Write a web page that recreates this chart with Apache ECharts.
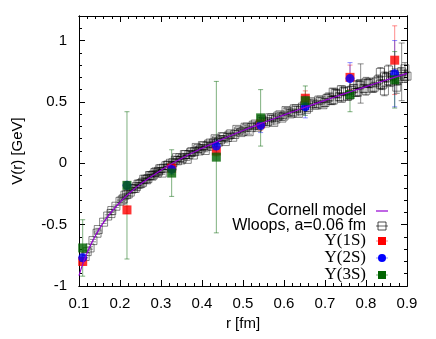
<!DOCTYPE html>
<html>
<head>
<meta charset="utf-8">
<script src="https://cdn.jsdelivr.net/npm/echarts@6/dist/echarts.min.js"></script>
<style>html,body{margin:0;padding:0;background:#fff}#c{width:436px;height:339px}</style>
</head>
<body>
<div id="c"></div>
<script>
// ---- data ----
const cornR = [0.1,0.11,0.12,0.13,0.14,0.15,0.16,0.18,0.2,0.22,0.25,0.3,0.35,0.4,0.45,0.5,0.55,0.6,0.65,0.7,0.75,0.8,0.85,0.9];
const cornV = [-0.915,-0.814,-0.728,-0.655,-0.590,-0.533,-0.481,-0.393,-0.318,-0.253,-0.170,-0.056,0.039,0.122,0.197,0.267,0.332,0.394,0.454,0.513,0.569,0.625,0.679,0.733];

const wlR = [0.115,0.12,0.127,0.134,0.144,0.147,0.16,0.17,0.178,0.18,0.19,0.2,0.208,0.216,0.225,0.233,0.24,0.247,0.255,0.262,0.268,0.275,0.281,0.288,0.294,0.3,0.306,0.312,0.318,0.323,0.329,0.335,0.34,0.346,0.352,0.36,0.368,0.375,0.382,0.39,0.397,0.404,0.412,0.42,0.428,0.436,0.445,0.453,0.462,0.47,0.48,0.49,0.5,0.51,0.52,0.53,0.54,0.55,0.56,0.57,0.58,0.59,0.6,0.61,0.62,0.63,0.64,0.65,0.66,0.67,0.68,0.69,0.7,0.71,0.72,0.72,0.73,0.74,0.74,0.75,0.76,0.77,0.78,0.78,0.787,0.8,0.8,0.81,0.82,0.83,0.835,0.84,0.845,0.85,0.855,0.86,0.87,0.875,0.88,0.887,0.895,0.9];
const wlV = [-0.76,-0.72,-0.69,-0.63,-0.57,-0.54,-0.48,-0.43,-0.41,-0.385,-0.35,-0.31,-0.29,-0.255,-0.235,-0.205,-0.19,-0.17,-0.155,-0.13,-0.125,-0.10,-0.095,-0.07,-0.065,-0.045,-0.04,-0.02,-0.015,0.0,0.005,0.025,0.02,0.045,0.04,0.07,0.07,0.095,0.095,0.12,0.115,0.14,0.14,0.165,0.165,0.19,0.19,0.215,0.21,0.24,0.235,0.265,0.26,0.295,0.29,0.32,0.31,0.345,0.34,0.37,0.36,0.395,0.385,0.42,0.41,0.445,0.43,0.47,0.455,0.49,0.475,0.515,0.495,0.54,0.515,0.58,0.565,0.53,0.60,0.59,0.555,0.61,0.58,0.64,0.65,0.595,0.66,0.655,0.62,0.68,0.74,0.64,0.59,0.70,0.76,0.665,0.72,0.62,0.69,0.745,0.77,0.71];
const wlErr = [0.01,0.01,0.01,0.01,0.01,0.01,0.01,0.01,0.01,0.01,0.01,0.01,0.01,0.01,0.01,0.01,0.01,0.01,0.01,0.01,0.01,0.01,0.01,0.01,0.01,0.01,0.01,0.01,0.01,0.01,0.01,0.01,0.01,0.01,0.01,0.01,0.01,0.01,0.01,0.01,0.01,0.01,0.01,0.01,0.01,0.01,0.01,0.01,0.01,0.01,0.01,0.01,0.01,0.01,0.01,0.01,0.01,0.02,0.02,0.02,0.02,0.02,0.02,0.02,0.02,0.02,0.02,0.02,0.02,0.02,0.02,0.02,0.03,0.03,0.03,0.03,0.03,0.03,0.03,0.03,0.03,0.03,0.03,0.03,0.16,0.04,0.04,0.04,0.04,0.04,0.04,0.04,0.04,0.04,0.04,0.04,0.05,0.05,0.05,0.235,0.05,0.05];
// further Wilson-loop points (the band is dense)
const wl2R = [0.205,0.212,0.22,0.229,0.237,0.244,0.251,0.258,0.265,0.272,0.278,0.285,0.291,0.297,0.303,0.316,0.327,0.338,0.349,0.357,0.364,0.372,0.379,0.386,0.393,0.401,0.408,0.416,0.424,0.432,0.44,0.449,0.457,0.466,0.475,0.485,0.495,0.505,0.515,0.525,0.535,0.545,0.555,0.565,0.575,0.585,0.595,0.605,0.615,0.625,0.635,0.645,0.655,0.665,0.675,0.685,0.695,0.705,0.715,0.725,0.735,0.745,0.755,0.765,0.775,0.785,0.795,0.805,0.815,0.825,0.835,0.845,0.855,0.865,0.875,0.885,0.895];
const wl2V = [-0.30,-0.26,-0.25,-0.21,-0.205,-0.17,-0.165,-0.13,-0.135,-0.10,-0.105,-0.075,-0.08,-0.045,-0.08,-0.016,-0.025,0.046,0.027,0.071,0.032,0.086,0.067,0.129,0.10,0.144,0.104,0.156,0.138,0.20,0.172,0.216,0.177,0.229,0.212,0.276,0.25,0.294,0.257,0.31,0.293,0.356,0.328,0.371,0.333,0.385,0.368,0.43,0.402,0.444,0.406,0.458,0.44,0.502,0.474,0.515,0.477,0.529,0.51,0.571,0.542,0.583,0.545,0.596,0.577,0.638,0.609,0.65,0.611,0.662,0.643,0.704,0.674,0.715,0.676,0.727,0.708];
const wl2Err = [0.01,0.01,0.01,0.01,0.01,0.01,0.01,0.01,0.01,0.01,0.01,0.01,0.01,0.01,0.01,0.01,0.01,0.01,0.01,0.01,0.01,0.01,0.01,0.01,0.01,0.01,0.01,0.01,0.01,0.01,0.01,0.01,0.01,0.01,0.01,0.01,0.01,0.02,0.02,0.02,0.02,0.02,0.02,0.02,0.02,0.02,0.02,0.02,0.02,0.02,0.02,0.02,0.02,0.02,0.02,0.02,0.02,0.03,0.03,0.03,0.03,0.03,0.03,0.03,0.03,0.03,0.03,0.03,0.03,0.04,0.04,0.04,0.04,0.04,0.04,0.05,0.05];

const upsR = [0.109,0.217,0.326,0.435,0.543,0.652,0.761,0.870];
const y1V = [-0.80,-0.38,-0.04,0.10,0.32,0.53,0.70,0.84];
const y1E = [0.03,0.03,0.03,0.04,0.05,0.06,0.10,0.28];
const y2V = [-0.77,-0.18,-0.05,0.14,0.31,0.46,0.69,0.73];
const y2E = [0.03,0.03,0.04,0.05,0.06,0.09,0.13,0.27];
const y3V = [-0.69,-0.18,-0.08,0.05,0.37,0.51,0.56,0.68];
const y3E = [0.23,0.60,0.19,0.617,0.23,0.12,0.14,0.23];

const xTicks = [0.1,0.2,0.3,0.4,0.5,0.6,0.7,0.8,0.9];
const yTicks = [-1,-0.5,0,0.5,1];
const legendNames = ['Cornell model', 'Wloops, a=0.06 fm', 'Υ(1S)', 'Υ(2S)', 'Υ(3S)'];

// ---- build ----
const pairs = (xs, ys) => xs.map((x, i) => [x, ys[i]]);
const errs = (xs, ys, es) => xs.map((x, i) => [x, ys[i] - es[i], ys[i] + es[i]]);

function errRender(color, cap) {
  return function (params, api) {
    const x = api.value(0), lo = api.value(1), hi = api.value(2);
    const p1 = api.coord([x, lo]), p2 = api.coord([x, hi]);
    const st = { stroke: color, lineWidth: 1, fill: null };
    return {
      type: 'group',
      children: [
        { type: 'line', shape: { x1: p1[0], y1: p1[1], x2: p2[0], y2: p2[1] }, style: st },
        { type: 'line', shape: { x1: p1[0] - cap, y1: p1[1], x2: p1[0] + cap, y2: p1[1] }, style: st },
        { type: 'line', shape: { x1: p2[0] - cap, y1: p2[1], x2: p2[0] + cap, y2: p2[1] }, style: st }
      ]
    };
  };
}

const FONT = 'Liberation Sans';
const fmtX = v => (xTicks.some(t => Math.abs(t - v) < 1e-6) ? (+v.toFixed(1)).toString() : '');
const fmtY = v => (yTicks.some(t => Math.abs(t - v) < 1e-6) ? (+v.toFixed(1)).toString() : '');

const baseX = (pos, interval, len, labels) => ({
  type: 'value', min: 0.1, max: 0.9, interval: interval, position: pos,
  axisLine: { show: true, onZero: false, lineStyle: { color: '#000', width: 1 } },
  axisTick: { show: true, inside: true, length: len, lineStyle: { color: '#000' } },
  axisLabel: labels ? { show: true, formatter: fmtX, color: '#000', fontFamily: FONT, fontSize: 15, margin: 10 } : { show: false },
  splitLine: { show: false }
});
const baseY = (pos, interval, len, labels) => ({
  type: 'value', min: -1, max: 1.2, interval: interval, position: pos,
  axisLine: { show: true, onZero: false, lineStyle: { color: '#000', width: 1 } },
  axisTick: { show: true, inside: true, length: len, lineStyle: { color: '#000' } },
  axisLabel: labels ? { show: true, formatter: fmtY, color: '#000', fontFamily: FONT, fontSize: 15, margin: 12 } : { show: false },
  splitLine: { show: false }
});

const xA0 = baseX('bottom', 0.1, 6, true);
xA0.name = 'r [fm]'; xA0.nameLocation = 'middle'; xA0.nameGap = 26;
xA0.nameTextStyle = { color: '#000', fontFamily: FONT, fontSize: 15 };
const yA0 = baseY('left', 0.5, 6, true);
yA0.name = 'V(r) [GeV]'; yA0.nameLocation = 'middle'; yA0.nameGap = 54;
yA0.nameTextStyle = { color: '#000', fontFamily: FONT, fontSize: 15 };

// legend drawn as graphic elements (text right-aligned, key sample on the right)
const legRowY = [211, 226, 241, 258, 275];
const legTextX = 366, legKeyX = 382;
const legFonts = ['16px "Liberation Sans"', '16px "Liberation Sans"', '17px "Liberation Serif"', '17px "Liberation Serif"', '17px "Liberation Serif"'];
const graphics = [];
legendNames.forEach((n, i) => {
  graphics.push({ type: 'text', x: legTextX, y: legRowY[i],
    style: { text: n, font: legFonts[i], fill: '#000', textAlign: 'right', textVerticalAlign: 'middle' } });
});
const keyBar = (y, c) => ({ type: 'line', shape: { x1: legKeyX - 6, y1: y, x2: legKeyX + 6, y2: y }, style: { stroke: c, lineWidth: 1 } });
graphics.push({ type: 'line', shape: { x1: legKeyX - 6, y1: legRowY[0], x2: legKeyX + 6, y2: legRowY[0] }, style: { stroke: '#9400d3', lineWidth: 1.2 } });
graphics.push({ type: 'rect', shape: { x: legKeyX - 4, y: legRowY[1] - 4, width: 8, height: 8 }, style: { stroke: 'rgba(0,0,0,0.7)', fill: 'none', lineWidth: 1 } });
graphics.push(keyBar(legRowY[1], 'rgba(0,0,0,0.6)'));
graphics.push(keyBar(legRowY[2], 'rgba(255,0,0,0.45)'));
graphics.push({ type: 'rect', shape: { x: legKeyX - 4, y: legRowY[2] - 4, width: 8, height: 8 }, style: { fill: '#ff0000' } });
graphics.push(keyBar(legRowY[3], 'rgba(0,0,255,0.45)'));
graphics.push({ type: 'circle', shape: { cx: legKeyX, cy: legRowY[3], r: 4 }, style: { fill: '#0000ff' } });
graphics.push(keyBar(legRowY[4], 'rgba(0,100,0,0.5)'));
graphics.push({ type: 'rect', shape: { x: legKeyX - 4, y: legRowY[4] - 4, width: 8, height: 8 }, style: { fill: '#006400' } });

const chart = echarts.init(document.getElementById('c'), null, { renderer: 'canvas' });
chart.setOption({
  animation: false,
  backgroundColor: '#fff',
  grid: { left: 79, top: 16, right: 29, bottom: 53, containLabel: false },
  xAxis: [xA0, baseX('bottom', 0.02, 3, false), baseX('top', 0.1, 6, false), baseX('top', 0.02, 3, false)],
  yAxis: [yA0, baseY('left', 0.1, 3, false), baseY('right', 0.5, 6, false), baseY('right', 0.1, 3, false)],
  graphic: graphics,
  series: [
    { name: 'wl-err', type: 'custom', renderItem: errRender('rgba(0,0,0,0.45)', 3),
      data: errs(wlR, wlV, wlErr).concat(errs(wl2R, wl2V, wl2Err)), clip: true, silent: true },
    { name: 'Wloops, a=0.06 fm', type: 'scatter', symbol: 'rect', symbolSize: 8, data: pairs(wlR, wlV).concat(pairs(wl2R, wl2V)),
      itemStyle: { color: 'rgba(0,0,0,0)', borderColor: 'rgba(0,0,0,0.6)', borderWidth: 1 } },
    { name: 'Cornell model', type: 'line', data: pairs(cornR, cornV), smooth: true, symbol: 'none', showSymbol: false,
      lineStyle: { color: '#9400d3', width: 1.2 }, itemStyle: { color: '#9400d3' } },
    { name: 'y1-err', type: 'custom', renderItem: errRender('rgba(255,0,0,0.45)', 2.5), data: errs(upsR, y1V, y1E), clip: true, silent: true },
    { name: 'Υ(1S)', type: 'scatter', symbol: 'rect', symbolSize: 9, data: pairs(upsR, y1V), itemStyle: { color: '#ff0000' } },
    { name: 'y2-err', type: 'custom', renderItem: errRender('rgba(0,0,255,0.45)', 2.5), data: errs(upsR, y2V, y2E), clip: true, silent: true },
    { name: 'Υ(2S)', type: 'scatter', symbol: 'circle', symbolSize: 9, data: pairs(upsR, y2V), itemStyle: { color: '#0000ff' } },
    { name: 'y3-err', type: 'custom', renderItem: errRender('rgba(0,100,0,0.5)', 2.5), data: errs(upsR, y3V, y3E), clip: true, silent: true },
    { name: 'Υ(3S)', type: 'scatter', symbol: 'rect', symbolSize: 9, data: pairs(upsR, y3V), itemStyle: { color: '#006400' } }
  ]
});
</script>
</body>
</html>
